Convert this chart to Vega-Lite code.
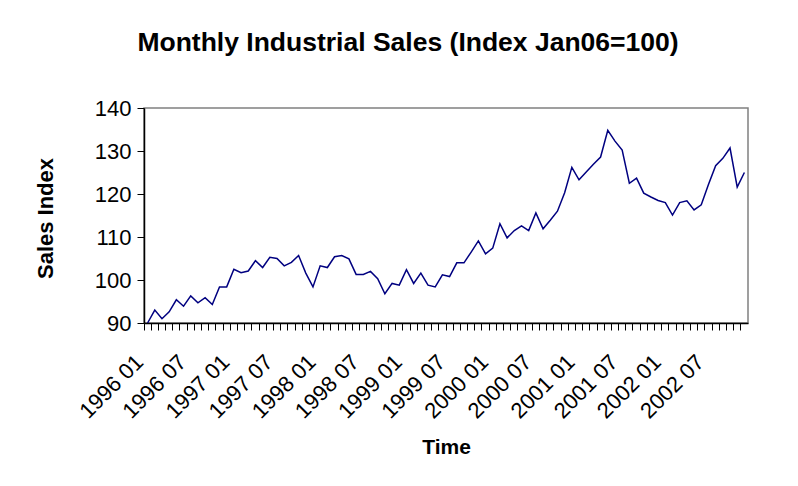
{
  "$schema": "https://vega.github.io/schema/vega-lite/v6.json",
  "autosize": "none",
  "width": 604,
  "height": 215,
  "padding": {"left": 144, "top": 108, "right": 50, "bottom": 163},
  "background": "white",
  "title": {
    "text": "Monthly Industrial Sales (Index Jan06=100)",
    "font": "Liberation Sans",
    "fontSize": 26.5,
    "fontWeight": "bold",
    "color": "black",
    "anchor": "middle",
    "frame": "group",
    "dx": -38,
    "baseline": "bottom",
    "offset": 14
  },
  "data": {
    "values": [
      {"m": "1996 01", "v": 90.0}, {"m": "1996 02", "v": 93.0}, {"m": "1996 03", "v": 91.0}, {"m": "1996 04", "v": 92.6},
      {"m": "1996 05", "v": 95.4}, {"m": "1996 06", "v": 93.9}, {"m": "1996 07", "v": 96.3}, {"m": "1996 08", "v": 94.7},
      {"m": "1996 09", "v": 95.9}, {"m": "1996 10", "v": 94.3}, {"m": "1996 11", "v": 98.4}, {"m": "1996 12", "v": 98.4},
      {"m": "1997 01", "v": 102.5}, {"m": "1997 02", "v": 101.7}, {"m": "1997 03", "v": 102.1}, {"m": "1997 04", "v": 104.5},
      {"m": "1997 05", "v": 102.9}, {"m": "1997 06", "v": 105.3}, {"m": "1997 07", "v": 105.0}, {"m": "1997 08", "v": 103.3},
      {"m": "1997 09", "v": 104.1}, {"m": "1997 10", "v": 105.7}, {"m": "1997 11", "v": 101.6}, {"m": "1997 12", "v": 98.4},
      {"m": "1998 01", "v": 103.3}, {"m": "1998 02", "v": 102.9}, {"m": "1998 03", "v": 105.4}, {"m": "1998 04", "v": 105.7},
      {"m": "1998 05", "v": 104.9}, {"m": "1998 06", "v": 101.3}, {"m": "1998 07", "v": 101.3}, {"m": "1998 08", "v": 102.0},
      {"m": "1998 09", "v": 100.3}, {"m": "1998 10", "v": 96.8}, {"m": "1998 11", "v": 99.2}, {"m": "1998 12", "v": 98.8},
      {"m": "1999 01", "v": 102.4}, {"m": "1999 02", "v": 99.2}, {"m": "1999 03", "v": 101.6}, {"m": "1999 04", "v": 98.8},
      {"m": "1999 05", "v": 98.4}, {"m": "1999 06", "v": 101.2}, {"m": "1999 07", "v": 100.8}, {"m": "1999 08", "v": 104.0},
      {"m": "1999 09", "v": 104.0}, {"m": "1999 10", "v": 106.5}, {"m": "1999 11", "v": 109.1}, {"m": "1999 12", "v": 106.1},
      {"m": "2000 01", "v": 107.4}, {"m": "2000 02", "v": 113.1}, {"m": "2000 03", "v": 109.8}, {"m": "2000 04", "v": 111.5},
      {"m": "2000 05", "v": 112.6}, {"m": "2000 06", "v": 111.5}, {"m": "2000 07", "v": 115.6}, {"m": "2000 08", "v": 111.9},
      {"m": "2000 09", "v": 113.9}, {"m": "2000 10", "v": 116.0}, {"m": "2000 11", "v": 120.3}, {"m": "2000 12", "v": 126.2},
      {"m": "2001 01", "v": 123.3}, {"m": "2001 02", "v": 125.1}, {"m": "2001 03", "v": 126.9}, {"m": "2001 04", "v": 128.6},
      {"m": "2001 05", "v": 134.8}, {"m": "2001 06", "v": 132.3}, {"m": "2001 07", "v": 130.2}, {"m": "2001 08", "v": 122.5},
      {"m": "2001 09", "v": 123.7}, {"m": "2001 10", "v": 120.2}, {"m": "2001 11", "v": 119.3}, {"m": "2001 12", "v": 118.5},
      {"m": "2002 01", "v": 118.0}, {"m": "2002 02", "v": 115.1}, {"m": "2002 03", "v": 118.0}, {"m": "2002 04", "v": 118.4},
      {"m": "2002 05", "v": 116.3}, {"m": "2002 06", "v": 117.5}, {"m": "2002 07", "v": 122.2}, {"m": "2002 08", "v": 126.6},
      {"m": "2002 09", "v": 128.3}, {"m": "2002 10", "v": 130.7}, {"m": "2002 11", "v": 121.6}, {"m": "2002 12", "v": 125.0}
    ]
  },
  "mark": {"type": "line", "color": "#000080", "strokeWidth": 1.5},
  "encoding": {
    "x": {
      "field": "m",
      "type": "ordinal",
      "sort": null,
      "scale": {"type": "band", "paddingInner": 0, "paddingOuter": 0},
      "axis": {
        "title": "Time",
        "titleFont": "Liberation Sans",
        "titleFontSize": 21,
        "titleFontWeight": "bold",
        "titleColor": "black",
        "titleX": 302,
        "titleY": 124,
        "titleBaseline": "middle",
        "titleAlign": "center",
        "bandPosition": 0,
        "domainColor": "black",
        "domainWidth": 1.5,
        "tickColor": "black",
        "tickSize": 7,
        "tickWidth": 1,
        "labelAngle": -45,
        "labelAlign": "right",
        "labelBaseline": "top",
        "labelOffset": -15,
        "labelPadding": 21,
        "labelFont": "Liberation Sans",
        "labelFontSize": 22,
        "labelColor": "black",
        "labelOverlap": false,
        "labelBound": false,
        "labelExpr": "(slice(datum.value,5)=='01' || slice(datum.value,5)=='07') ? datum.value : ''"
      }
    },
    "y": {
      "field": "v",
      "type": "quantitative",
      "scale": {"domain": [90, 140], "nice": false, "zero": false},
      "axis": {
        "title": "Sales Index",
        "titleFont": "Liberation Sans",
        "titleFontSize": 22,
        "titleFontWeight": "bold",
        "titleColor": "black",
        "titleAngle": -90,
        "titleX": -99,
        "titleY": 110,
        "titleAlign": "center",
        "titleBaseline": "middle",
        "values": [90, 100, 110, 120, 130, 140],
        "grid": false,
        "domainColor": "black",
        "domainWidth": 1.5,
        "tickColor": "black",
        "tickSize": 7,
        "labelPadding": 6,
        "labelFont": "Liberation Sans",
        "labelFontSize": 22,
        "labelColor": "black"
      }
    }
  },
  "config": {
    "view": {"stroke": "#808080", "strokeWidth": 1.5, "fill": "white"}
  }
}
